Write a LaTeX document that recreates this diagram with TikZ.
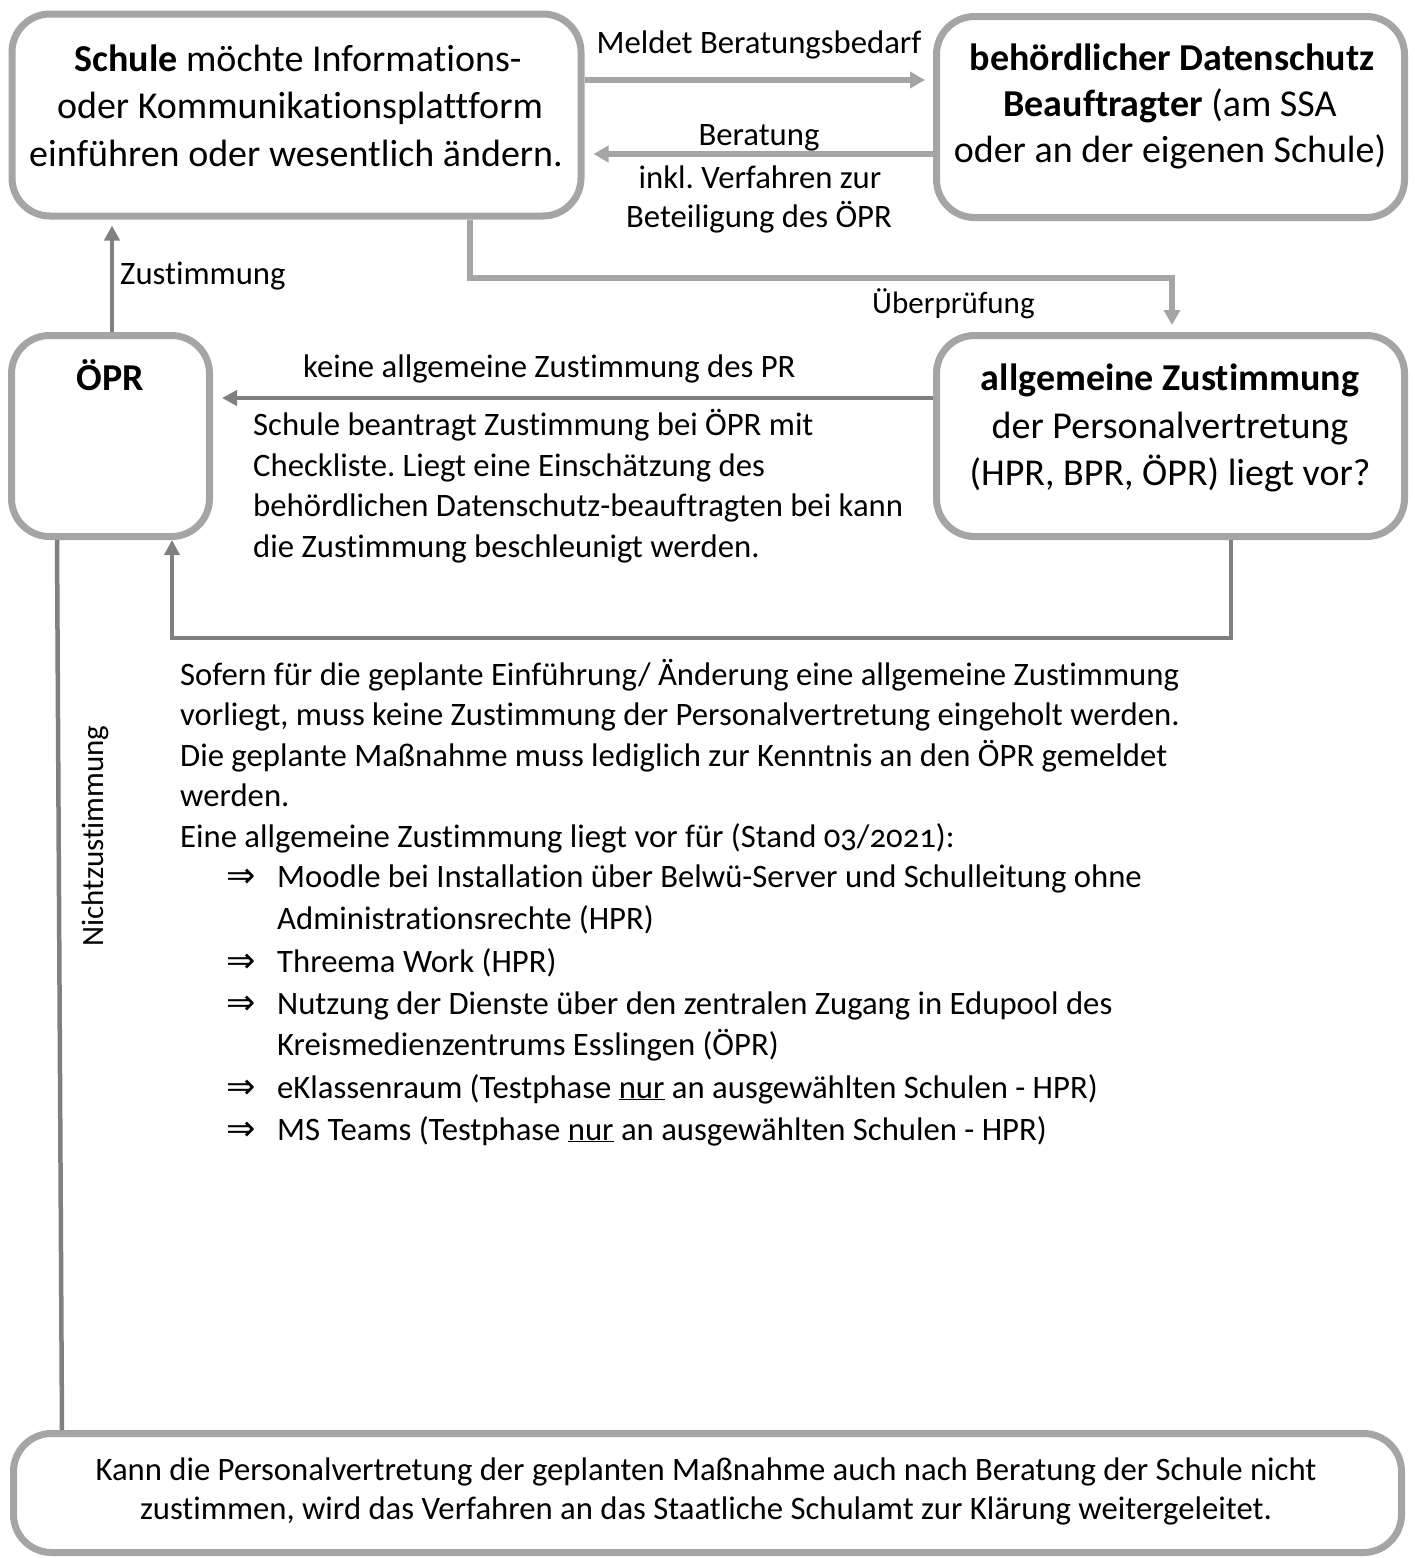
\documentclass[tikz,border=0pt]{standalone}
\usepackage{fontspec}
\setmainfont{Carlito}[Ligatures=NoCommon]
\newfontfamily\djv{DejaVu Sans}
\usetikzlibrary{arrows.meta}
\definecolor{boxgray}{HTML}{A5A5A5}
\definecolor{arrdark}{HTML}{808080}
\frenchspacing
\begin{document}
\begin{tikzpicture}[x=1pt,y=-1pt,
  box/.style={draw=boxgray, line width=7pt, rounded corners=38pt, inner sep=0pt, fill=white},
  lab/.style={font=\fontsize{32.7}{38}\selectfont, inner sep=0pt},
  labn/.style={font=\fontsize{31}{38}\selectfont, inner sep=0pt},
  boxtxt/.style={font=\fontsize{38}{46}\selectfont, inner sep=0pt},
  larr/.style={draw=boxgray, line width=5.5pt, -{Triangle[length=15pt,width=16pt]}},
  darr/.style={draw=arrdark, line width=4.5pt, -{Triangle[length=15pt,width=15pt]}},
  dline/.style={draw=arrdark, line width=4.5pt},
  arrsym/.style={font=\fontsize{35}{38}\djv, inner sep=0pt, anchor=base west}
]
\path[use as bounding box, fill=white] (0,0) rectangle (1414,1558);

% boxes
\node[box, minimum width=569pt, minimum height=202pt] (A) at (296.5,115) {};
\node[box, minimum width=468pt, minimum height=201pt] (B) at (1170.5,117) {};
\node[box, minimum width=198pt, minimum height=201pt] (C) at (110.5,436) {};
\node[box, minimum width=468pt, minimum height=201pt] (D) at (1170.5,436) {};
\node[box, minimum width=1388pt, minimum height=119pt] (E) at (707.5,1493) {};

% box texts
\node[boxtxt, anchor=base] (a1) at (298,71) {\textbf{Schule} möchte Informations-};
\node[boxtxt, anchor=base] (a2) at (300,118) {oder Kommunikationsplattform};
\node[boxtxt, anchor=base] (a3) at (296,166) {einführen oder wesentlich ändern.};
\node[boxtxt, anchor=base] (b1) at (1172,70) {\textbf{behördlicher Datenschutz}};
\node[boxtxt, anchor=base] (b2) at (1170,116) {\textbf{Beauftragter} (am SSA};
\node[boxtxt, anchor=base] (b3) at (1170,162) {oder an der eigenen Schule)};
\node[boxtxt, anchor=base] (c1) at (110,390) {\textbf{ÖPR}};
\node[boxtxt, anchor=base] (d1) at (1170,390) {\textbf{allgemeine Zustimmung}};
\node[boxtxt, anchor=base] (d2) at (1170,438) {der Personalvertretung};
\node[boxtxt, anchor=base] (d3) at (1170,485) {(HPR, BPR, ÖPR) liegt vor?};
\node[lab, anchor=base] (e1) at (706,1480) {Kann die Personalvertretung der geplanten Maßnahme auch nach Beratung der Schule nicht};
\node[lab, anchor=base] (e2) at (706,1519) {zustimmen, wird das Verfahren an das Staatliche Schulamt zur Klärung weitergeleitet.};

% helper coordinates
\coordinate (ym) at (0,80);
\coordinate (yb) at (0,154);
\coordinate (xu) at (470,278);
\coordinate (xu2) at (1172,0);
\coordinate (xz) at (112,0);
\coordinate (yk) at (0,398);
\coordinate (xl) at (1231,638);
\coordinate (xl2) at (172,0);
\coordinate (xn1) at (57,0);
\coordinate (xn2) at (62,0);

% connectors
\draw[larr, shorten >=8pt] (A.east |- ym) -- (B.west |- ym);
\draw[larr, shorten >=9pt] (B.west |- yb) -- (A.east |- yb);
\draw[larr, shorten >=7pt] (A.south -| xu) -- (xu) -| (D.north -| xu2);
\draw[darr, shorten >=6pt] (C.north -| xz) -- (A.south -| xz);
\draw[darr, shorten >=9pt] (D.west |- yk) -- (C.east |- yk);
\draw[darr] (D.south -| xl) -- (xl) -| (C.south -| xl2);
\draw[dline] (C.south -| xn1) -- (E.north -| xn2);

% connector labels
\node[lab, anchor=base] (lm) at (759,53) {Meldet Beratungsbedarf};
\node[lab, anchor=base] (lb1) at (759,145) {Beratung};
\node[lab, anchor=base] (lb2) at (760,188) {inkl. Verfahren zur};
\node[lab, anchor=base] (lb3) at (759,227) {Beteiligung des ÖPR};
\node[lab, anchor=base west] (lz) at (120,284) {Zustimmung};
\node[labn, anchor=base west] (lu) at (872,313) {Überprüfung};
\node[lab, anchor=base west] (lk) at (303,377) {keine allgemeine Zustimmung des PR};
\node[lab, anchor=base west] (k1) at (253,435) {Schule beantragt Zustimmung bei ÖPR mit};
\node[lab, anchor=base west] (k2) at (253,476) {Checkliste. Liegt eine Einschätzung des};
\node[lab, anchor=base west] (k3) at (253,516) {behördlichen Datenschutz-beauftragten bei kann};
\node[lab, anchor=base west] (k4) at (253,557) {die Zustimmung beschleunigt werden.};
\node[labn, rotate=90] (ln) at (95,836) {Nichtzustimmung};

% information paragraph
\node[lab, anchor=base west] (p1) at (180,685) {Sofern für die geplante Einführung/ Änderung eine allgemeine Zustimmung};
\node[lab, anchor=base west] (p2) at (180,725.5) {vorliegt, muss keine Zustimmung der Personalvertretung eingeholt werden.};
\node[lab, anchor=base west] (p3) at (180,766) {Die geplante Maßnahme muss lediglich zur Kenntnis an den ÖPR gemeldet};
\node[lab, anchor=base west] (p4) at (180,806.5) {werden.};
\node[lab, anchor=base west] (p5) at (180,847) {Eine allgemeine Zustimmung liegt vor für (Stand {\addfontfeature{Numbers=OldStyle}03/2021}):};

\node[arrsym] (s1) at (226,887) {⇒};
\node[lab, anchor=base west] (q1) at (277,887) {Moodle bei Installation über Belwü-Server und Schulleitung ohne};
\node[lab, anchor=base west] (q1b) at (277,929) {Administrationsrechte (HPR)};
\node[arrsym] (s2) at (226,972) {⇒};
\node[lab, anchor=base west] (q2) at (277,972) {Threema Work (HPR)};
\node[arrsym] (s3) at (226,1014) {⇒};
\node[lab, anchor=base west] (q3) at (277,1014) {Nutzung der Dienste über den zentralen Zugang in Edupool des};
\node[lab, anchor=base west] (q3b) at (277,1055) {Kreismedienzentrums Esslingen (ÖPR)};
\node[arrsym] (s4) at (226,1098) {⇒};
\node[lab, anchor=base west] (q4) at (277,1098) {eKlassenraum (Testphase \underline{nur} an ausgewählten Schulen - HPR)};
\node[arrsym] (s5) at (226,1140) {⇒};
\node[lab, anchor=base west] (q5) at (277,1140) {MS Teams (Testphase \underline{nur} an ausgewählten Schulen - HPR)};
\end{tikzpicture}
\end{document}
